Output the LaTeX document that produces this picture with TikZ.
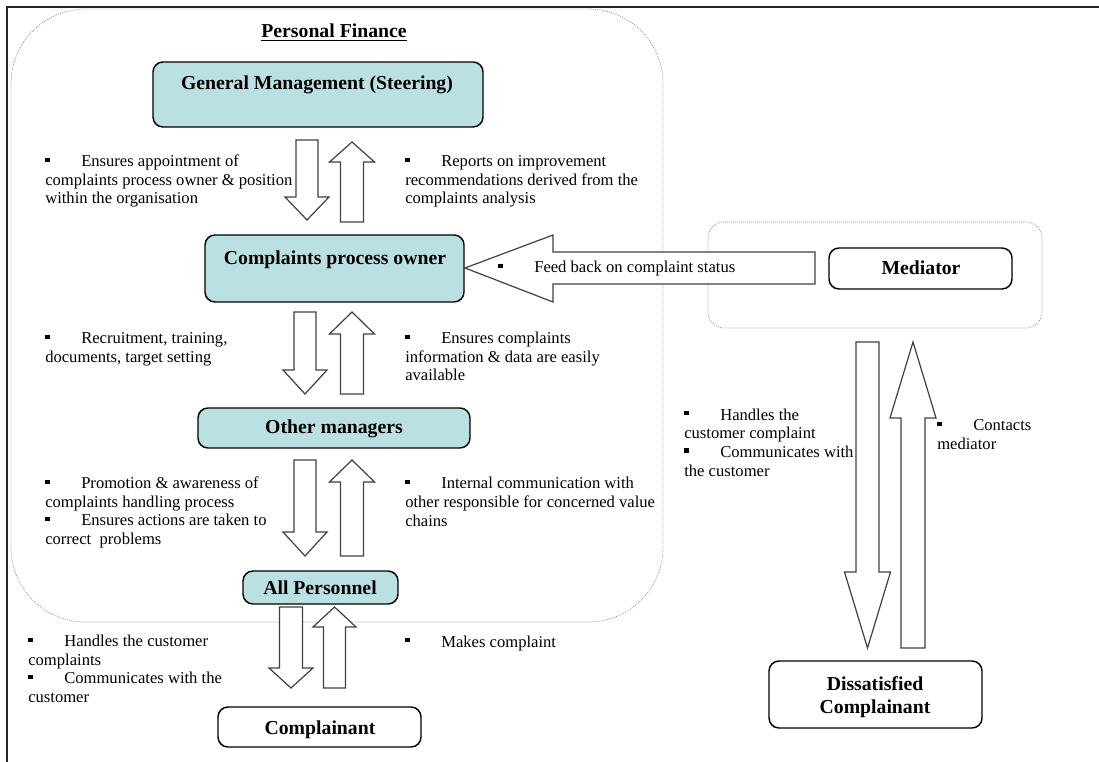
\documentclass[tikz,border=0pt]{standalone}
\usepackage{fontspec}
\setmainfont{Liberation Serif}
\usetikzlibrary{fit}
\definecolor{boxfill}{RGB}{187,224,227}
\newcommand{\bsq}{\raisebox{3.7pt}{\rule{3.2pt}{3.2pt}}}
\newcommand{\bul}{\makebox[27pt][l]{\bsq}}
\newcommand{\blkdn}[6]{\draw[blk] ({#1-#4},#2) -- ({#1+#4},#2) -- ({#1+#4},{#3-#6}) -- ({#1+#5},{#3-#6}) -- (#1,#3) -- ({#1-#5},{#3-#6}) -- ({#1-#4},{#3-#6}) -- cycle;}
\newcommand{\blkup}[6]{\draw[blk] (#1,#2) -- ({#1+#5},{#2+#6}) -- ({#1+#4},{#2+#6}) -- ({#1+#4},#3) -- ({#1-#4},#3) -- ({#1-#4},{#2+#6}) -- ({#1-#5},{#2+#6}) -- cycle;}
\tikzset{
  bf/.style={font=\fontsize{14.8}{17.25}\selectfont\bfseries, inner sep=0, align=center},
  tx/.style={font=\fontsize{12.45}{13.9}\selectfont, align=left, inner sep=0, anchor=base west},
  cbox/.style={draw=black, line width=1.1pt, rounded corners=7.5pt, fill=boxfill, inner sep=0},
  wbox/.style={draw=black, line width=1.1pt, rounded corners=7.5pt, fill=white, inner sep=0},
  blk/.style={draw=black!75, line width=0.9pt, fill=white, line join=miter},
  dots/.style={draw=black!45, line width=0.6pt, dash pattern=on 0.6pt off 0.9pt, inner sep=0},
  frame/.style={draw=black!85, line width=1.5pt}
}
\begin{document}
\begin{tikzpicture}[x=0.75pt, y=-0.75pt]
\useasboundingbox (0,0) rectangle (1099,762);
% outer frame (top and left only)
\coordinate (fbl) at (7,762);
\coordinate (ftl) at (7,7);
\coordinate (ftr) at (1099,7);
\draw[frame] (fbl) -- (ftl) -- (ftr);
% dotted zones
\node[dots, rounded corners=56pt, fit={(11,9) (663,622)}] (pf) {};
\node[dots, rounded corners=12pt, fit={(708,222) (1042,328)}] (mz) {};
\node[bf, anchor=base] (pft) at (334,38) {\underline{Personal Finance}};
% boxes
\node[cbox, fit={(153,62) (483,127)}] (gm) {};
\node[bf, anchor=base] (gmt) at (317,90) {General Management (Steering)};
\node[cbox, fit={(205,235) (464,302)}] (cpo) {};
\node[bf, anchor=base] (cpot) at (335,265) {Complaints process owner};
\node[cbox, fit={(198,408) (470,448)}] (om) {};
\node[bf, anchor=base] (omt) at (334,434) {Other managers};
\node[cbox, fit={(243,571) (398,604)}] (ap) {};
\node[bf, anchor=base] (apt) at (320,594) {All Personnel};
\node[wbox, fit={(218,707) (421,747)}] (cp) {};
\node[bf, anchor=base] (cpt) at (320,734) {Complainant};
\node[wbox, fit={(829,248) (1012,289)}] (med) {};
\node[bf, anchor=base] (medt) at (921,275) {Mediator};
\node[wbox, fit={(769,661) (982,728)}] (dc) {};
\node[bf, anchor=base] (dct) at (875,713) {Dissatisfied\\Complainant};
% block arrows
\blkdn{307}{140}{220}{11}{22}{23}
\blkup{352}{142}{222}{11.5}{22.5}{20}
\blkdn{305}{312}{394}{11}{22}{24}
\blkup{352}{312}{394}{11.5}{22.5}{22}
\blkdn{305}{460}{556}{11}{22}{24}
\blkup{352}{460}{556}{11.5}{22.5}{22}
\blkdn{291}{607}{688}{11.5}{22}{20}
\blkup{334.5}{607}{688}{11}{21.5}{20}
\blkdn{867.5}{342}{648}{11.5}{23}{76}
\blkup{913}{342}{648}{12}{23}{76}
\draw[blk] (465,268) -- (553,235) -- (553,252) -- (815,252) -- (815,284) -- (553,284) -- (553,302) -- cycle;
% texts (anchor = baseline of last line)
\node[tx] (t1l) at (45,204) {\bul Ensures appointment of\\complaints process owner \& position\\within the organisation};
\node[tx] (t1r) at (405,204) {\bul Reports on improvement\\recommendations derived from the\\complaints analysis};
\node[tx] (t2l) at (45,362.5) {\bul Recruitment, training,\\documents, target setting};
\node[tx] (t2r) at (405,381) {\bul Ensures complaints\\information \& data are easily\\available};
\node[tx] (t3l) at (45,544.5) {\bul Promotion \& awareness of\\complaints handling process\\\bul Ensures actions are taken to\\correct\ \ problems};
\node[tx] (t3r) at (405,526) {\bul Internal communication with\\other responsible for concerned value\\chains};
\node[tx] (t4l) at (28,702.5) {\bul Handles the customer\\complaints\\\bul Communicates with the\\customer};
\node[tx] (t4r) at (405,647) {\bul Makes complaint};
\node[tx] (tfb) at (498,273) {\bul Feed back on complaint status};
\node[tx] (tm1) at (684,476) {\bul Handles the\\customer complaint\\\bul Communicates with\\the customer};
\node[tx] (tm2) at (937,449.5) {\bul Contacts\\mediator};
\end{tikzpicture}
\end{document}
